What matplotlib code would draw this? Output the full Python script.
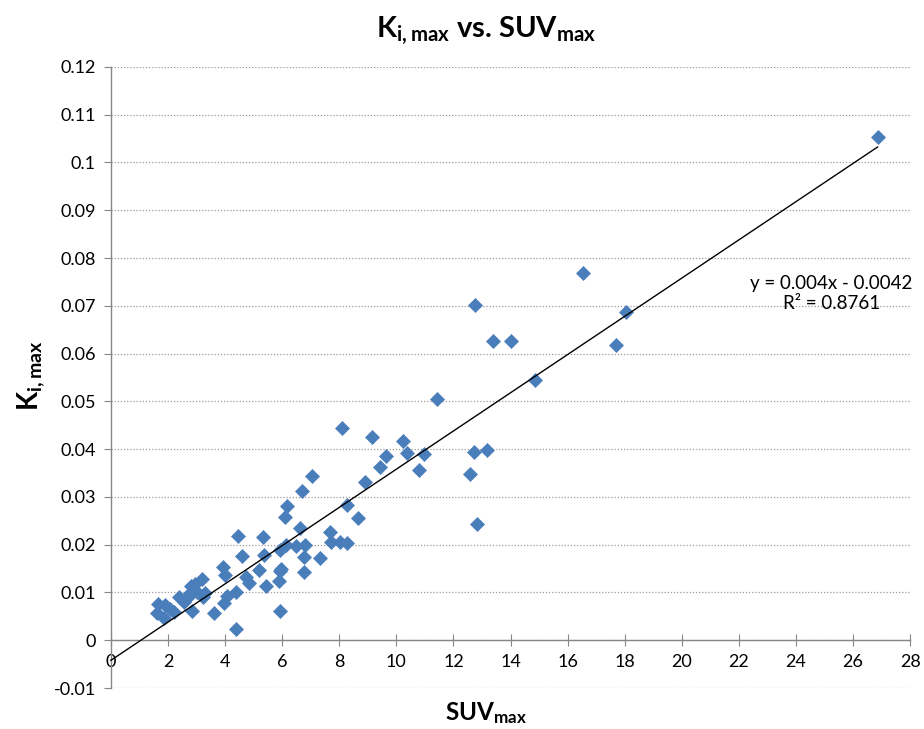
import numpy as np
import matplotlib
matplotlib.use("Agg")
import matplotlib.pyplot as plt

# data
suv_max = [26.86, 16.55, 12.76, 18.04, 17.69, 13.38, 14.00, 14.85, 11.43, 8.08,
           9.15, 10.25, 10.36, 10.98, 9.65, 9.42, 10.81, 12.71, 13.19, 12.59,
           12.84, 8.90, 7.04, 6.71, 6.17, 6.11, 8.28, 8.66, 6.63, 7.68,
           4.45, 5.34, 7.70, 8.01, 8.28, 6.80, 6.50, 6.13, 5.92, 6.78,
           7.31, 5.38, 4.60, 5.96, 5.92, 5.20, 3.93, 3.99, 4.72, 4.85,
           5.45, 5.90, 6.75, 4.39, 4.06, 3.95, 3.60, 4.37, 5.92, 3.19,
           2.94, 2.80, 3.31, 3.23, 3.00, 2.69, 2.38, 2.55, 2.84, 2.22,
           1.66, 1.90, 1.62, 1.86, 2.06, 2.76]
ki_max = [0.1053, 0.0768, 0.0702, 0.0686, 0.0618, 0.0626, 0.0626, 0.0544, 0.0504, 0.0444,
          0.0425, 0.0417, 0.0392, 0.0389, 0.0386, 0.0362, 0.0357, 0.0393, 0.0399, 0.0348,
          0.0244, 0.0331, 0.0344, 0.0312, 0.0281, 0.0259, 0.0284, 0.0256, 0.0235, 0.0227,
          0.0218, 0.0216, 0.0206, 0.0206, 0.0204, 0.0200, 0.0197, 0.0199, 0.0188, 0.0175,
          0.0172, 0.0179, 0.0177, 0.0150, 0.0145, 0.0148, 0.0153, 0.0136, 0.0133, 0.0120,
          0.0113, 0.0125, 0.0143, 0.0100, 0.0092, 0.0078, 0.0057, 0.0023, 0.0062, 0.0129,
          0.0117, 0.0114, 0.0099, 0.0091, 0.0101, 0.0090, 0.0090, 0.0081, 0.0062, 0.0060,
          0.0075, 0.0073, 0.0056, 0.0046, 0.0066, 0.0098]

slope = 0.004
intercept = -0.0042
eq_text = "y = 0.004x - 0.0042\nR² = 0.8761"

x_ticks = list(range(0, 29, 2))
y_ticks = [-0.01, 0, 0.01, 0.02, 0.03, 0.04, 0.05, 0.06, 0.07, 0.08, 0.09, 0.1, 0.11, 0.12]

plt.rcParams['font.family'] = ['Lato', 'DejaVu Sans']
plt.rcParams['mathtext.default'] = 'regular'

fig = plt.figure(figsize=(9.24, 7.29), dpi=100)
ax = fig.add_axes([0.120, 0.0562, 0.865, 0.852])

grey = '#868686'
ax.set_xlim(0, 28)
ax.set_ylim(-0.01, 0.12)
ax.set_yticks(y_ticks)
ax.set_yticklabels([f"{round(v, 2):g}" for v in y_ticks])
ax.set_xticks(x_ticks)
ax.set_xticklabels([str(v) for v in x_ticks])
ax.yaxis.grid(True, linestyle=(0, (1, 1.5)), color='#9a9a9a', linewidth=0.9)
ax.set_axisbelow(True)

for s in ['top', 'right']:
    ax.spines[s].set_visible(False)
ax.spines['bottom'].set_position(('data', 0))
ax.spines['bottom'].set_color(grey)
ax.spines['left'].set_color(grey)
ax.spines['bottom'].set_linewidth(1.0)
ax.spines['left'].set_linewidth(1.0)
ax.tick_params(axis='x', direction='inout', length=8, color=grey, labelsize=13, pad=6)
ax.tick_params(axis='y', direction='out', length=5, color=grey, labelsize=13, pad=6)

ax.plot(suv_max, ki_max, linestyle='none', marker='D', ms=7.6,
        color='#4A7EBB', markeredgecolor='#4A7EBB', markeredgewidth=0.5, zorder=3)

xs = np.array([0, max(suv_max)])
ax.plot(xs, slope * xs + intercept, color='black', linewidth=1.0, zorder=4, clip_on=False)

ax.text(25.25, 0.0726, eq_text, ha='center', va='center', multialignment='center',
        fontsize=13.5, linespacing=1.25)

fig.text(0.526, 0.958, r'K$_{i,max}$ vs. SUV$_{max}$', ha='center', va='center',
         fontsize=21, fontweight='bold')
fig.text(0.526, 0.022, r'SUV$_{max}$', ha='center', va='center',
         fontsize=17.5, fontweight='bold')
fig.text(0.034, 0.485, r'K$_{i,max}$', ha='center', va='center', rotation=90,
         fontsize=20, fontweight='bold')

fig.savefig('out.png', dpi=100)
